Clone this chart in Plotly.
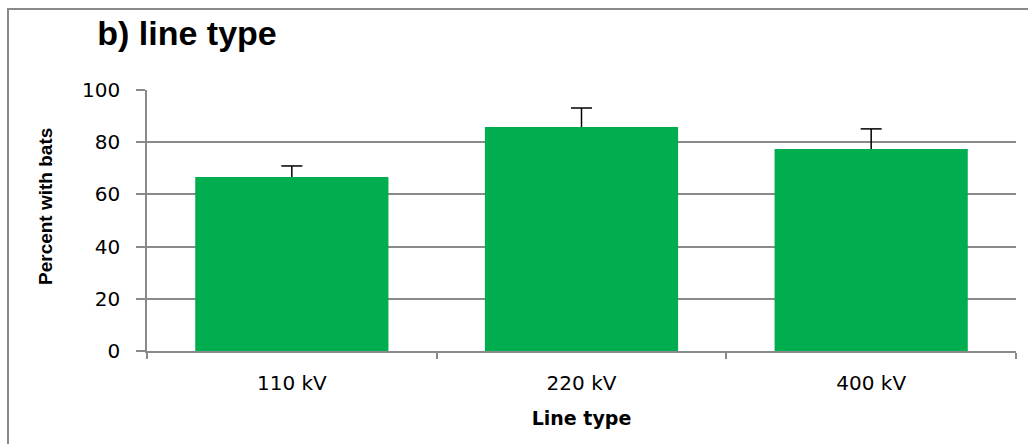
import plotly.graph_objects as go

# Share of surveyed pylons with bats, by power line voltage
line_types = ["110 kV", "220 kV", "400 kV"]
percent_with_bats = [66.7, 85.8, 77.4]
error_upper = [4.2, 7.3, 7.7]

y_ticks = [0, 20, 40, 60, 80, 100]

GRID = "#8a8a8a"
GREEN = "#00AE4F"

err_tops = [v + e for v, e in zip(percent_with_bats, error_upper)]

fig = go.Figure()
fig.add_trace(
    go.Bar(
        x=line_types,
        y=percent_with_bats,
        marker=dict(color=GREEN, line=dict(width=0)),
        hoverinfo="x+y",
    )
)
# Upper-only error bars: a cap marker at the top, stem reaching down to the bar
fig.add_trace(
    go.Scatter(
        x=line_types,
        y=err_tops,
        mode="markers",
        marker=dict(
            symbol="line-ew-open",
            size=15,
            color="black",
            line=dict(color="black", width=1.5),
        ),
        error_y=dict(
            type="data",
            symmetric=False,
            array=[0, 0, 0],
            arrayminus=error_upper,
            color="black",
            thickness=1.5,
            width=0,
        ),
        hoverinfo="skip",
    )
)

fig.update_layout(
    width=1028,
    height=444,
    margin=dict(l=147, r=12, t=90, b=93),
    paper_bgcolor="white",
    plot_bgcolor="white",
    bargap=0.333,
    showlegend=False,
    font=dict(family="DejaVu Sans", color="black"),
    title=dict(
        text="<b>b) line type</b>",
        font=dict(family="Liberation Sans, Arial", size=34, color="black"),
        x=187 / 1028,
        xanchor="center",
        y=1 - 33 / 444,
        yanchor="middle",
    ),
    xaxis=dict(
        showline=True,
        linecolor=GRID,
        linewidth=1.5,
        ticks="outside",
        tickson="boundaries",
        ticklen=6,
        tickcolor=GRID,
        tickwidth=1.5,
        tickfont=dict(family="DejaVu Sans", size=20),
        ticklabelstandoff=13,
        title=dict(
            text="<b>Line type</b>",
            font=dict(family="DejaVu Sans", size=19),
            standoff=18,
        ),
    ),
    yaxis=dict(
        range=[0, 100],
        tickvals=y_ticks,
        showline=True,
        linecolor=GRID,
        linewidth=1.5,
        showgrid=True,
        gridcolor=GRID,
        gridwidth=1.5,
        zeroline=False,
        ticks="outside",
        ticklen=9,
        tickcolor=GRID,
        tickwidth=1.5,
        tickfont=dict(family="DejaVu Sans", size=20),
        ticklabelstandoff=12,
    ),
)

# Vertical axis title
fig.add_annotation(
    text="<b>Percent with bats</b>",
    xref="paper",
    yref="paper",
    x=(45 - 147) / 869,
    y=(351 - 207) / 261,
    xanchor="center",
    yanchor="middle",
    textangle=-90,
    showarrow=False,
    font=dict(family="Liberation Sans, Arial", size=19, color="black"),
)

# Chart-area frame around the whole figure
fig.add_shape(
    type="rect",
    xref="paper",
    yref="paper",
    x0=(8 - 147) / 869,
    x1=1.2,
    y0=-0.6,
    y1=(351 - 9) / 261,
    line=dict(color=GRID, width=2),
    layer="below",
)

fig.write_html("out.html")
